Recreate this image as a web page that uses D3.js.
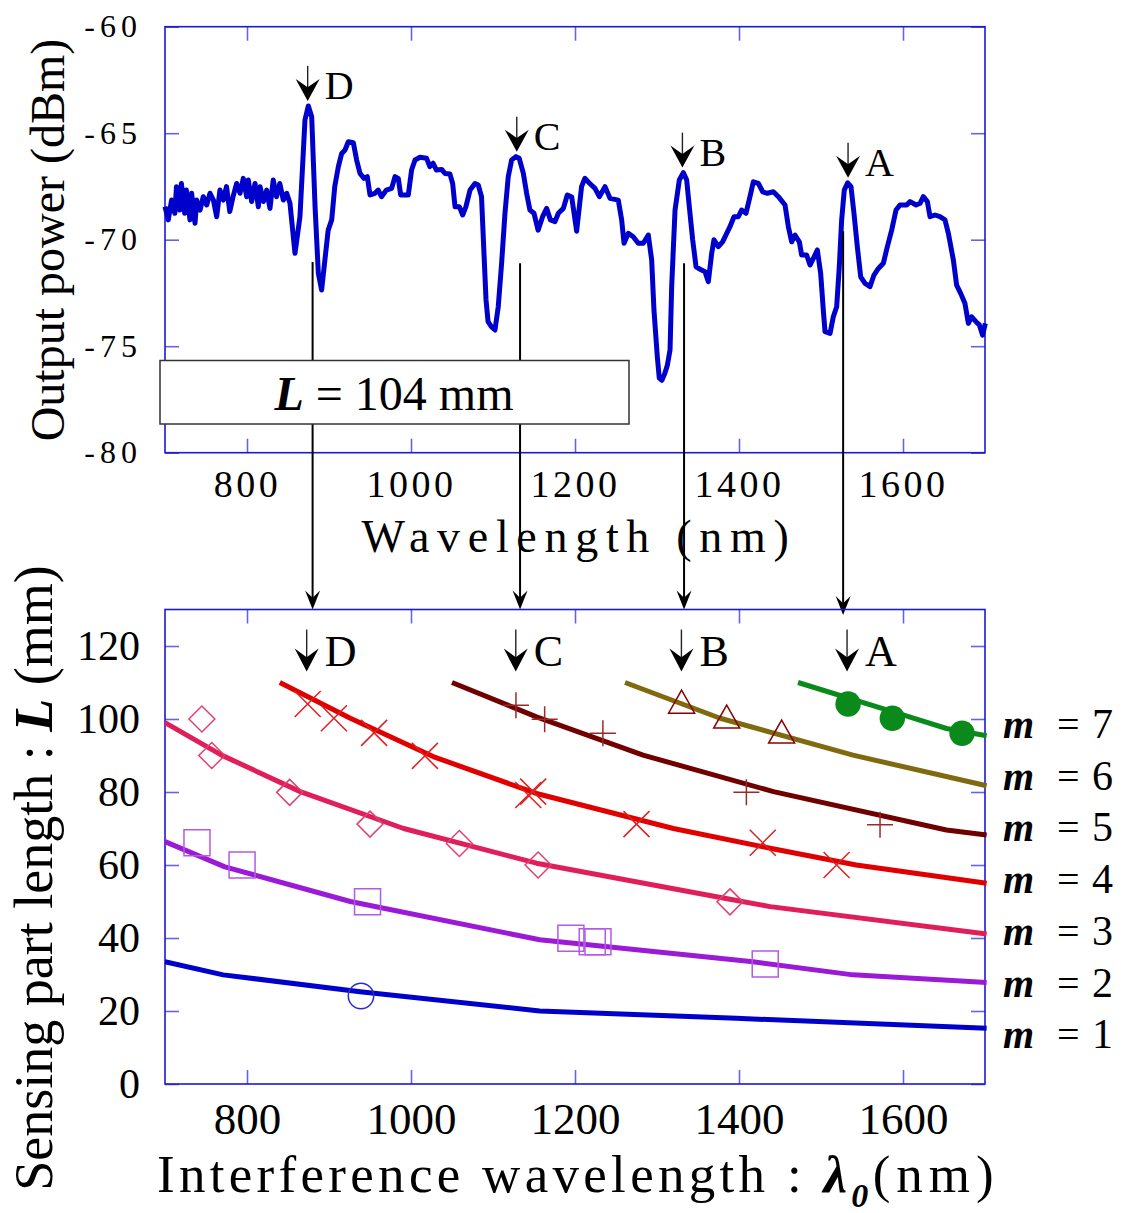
<!DOCTYPE html>
<html>
<head>
<meta charset="utf-8">
<script src="https://cdn.jsdelivr.net/npm/d3@7"></script>
<style>
body { margin: 0; background: #fff; }
svg { display: block; }
text { font-family: "Liberation Serif", "Times New Roman", serif; fill: #000; }
</style>
</head>
<body>
<div id="chart"></div>
<script>

// ---- top chart: measured spectrum (wavelength nm / output power dBm)
var specWl = [700,704,708,712,714,718,720,724,726,730.5,732.5,736.6,738.6,742.7,746.7,750.8,754.9,759,763,767,
  771,775,779,783,787.4,791.5,795.5,799.6,801.6,805.7,809.8,813.8,815.9,820,824,828,832,836,840,844.3,
  848.4,852.4,856.5,858.5,864.6,870.7,874.8,878.9,883,887,891,895,899,903.3,907,911.4,915.5,919.5,923.6,929.7,
  933.7,937.8,942.7,946.7,950,956,960,964,970,976.4,980.5,984.5,987.4,996.7,1000.7,1004.9,1011,1019,1023,1027,
  1031,1037.4,1041.4,1047.5,1050.8,1053.7,1058.9,1063,1067,1072,1078,1082,1086,1089,1091.5,1094,1098,1102.4,1106.4,1110.5,
  1114.6,1118.6,1122.7,1128,1132,1137,1141,1145,1150,1155,1160.5,1165.4,1170,1175.6,1179.7,1185.8,1190.6,1196,1202,1208,
  1212,1218,1224.4,1229.7,1236.6,1242.7,1252.8,1256.9,1259.8,1265,1271,1277.2,1283.3,1289.4,1293.5,1296.3,1300.4,1302.8,1306,1309.3,
  1312.6,1315.9,1317.9,1322,1327.2,1332.1,1336.2,1339.4,1343.5,1347.6,1353.2,1358.5,1362.6,1366.7,1369.5,1374.8,1380,1385,1389,1393.9,
  1399.2,1403.2,1408.5,1413.4,1417.5,1423.6,1428.9,1434.6,1441.9,1448,1456.1,1460.2,1464.2,1468.3,1473.6,1476.4,1482.5,1486.6,1490.7,1495.5,
  1499.6,1502.8,1504.9,1511,1515,1519.1,1522.3,1525.2,1528.4,1532.5,1536.6,1540.2,1544.3,1548.4,1553.7,1559.8,1564.6,1570,1576,1580.9,
  1586.2,1591.5,1596.3,1604.5,1608.6,1616,1620.8,1624.8,1629.7,1633,1639,1645.1,1651.2,1655.3,1661.4,1665.4,1670.3,1675.6,1679.7,1683.7,
  1689,1693.1,1697.1,1700.4];
var specDbm = [-68.45,-69.07,-68.14,-68.76,-67.51,-68.61,-67.36,-68.76,-67.67,-69.07,-67.82,-69.23,-68.14,-68.61,-67.98,-68.37,-67.82,-68.14,-68.92,-67.67,
  -68.14,-67.51,-68.68,-67.98,-67.36,-67.82,-67.12,-67.98,-67.2,-68.21,-67.36,-68.45,-67.51,-68.21,-67.67,-68.53,-67.2,-67.98,-67.36,-68.14,
  -67.82,-68.29,-69.86,-70.64,-68.92,-64.38,-63.72,-64.23,-68.45,-71.58,-72.36,-70.95,-69.55,-69.07,-67.51,-66.57,-65.95,-65.79,-65.4,-65.45,
  -66.26,-66.89,-67.12,-67.04,-67.9,-67.82,-67.67,-67.98,-67.67,-67.59,-67.04,-67.12,-67.9,-67.9,-66.73,-66.26,-66.13,-66.18,-66.57,-66.41,
  -66.73,-66.7,-66.89,-66.92,-67.36,-68.45,-68.45,-68.84,-68.45,-67.67,-67.36,-67.43,-67.98,-70.64,-72.83,-73.85,-74.08,-74.24,-73.15,-71.11,
  -68.76,-67.04,-66.26,-66.1,-66.18,-66.89,-67.82,-68.61,-68.76,-69.55,-68.92,-68.53,-69.07,-69.15,-68.76,-68.53,-67.9,-68.0,-69.6,-67.51,
  -67.12,-67.36,-67.59,-67.98,-67.51,-68.06,-68.14,-69.07,-70.17,-69.7,-69.86,-70.17,-70.17,-69.78,-70.95,-73.3,-75.5,-76.5,-76.6,-76.3,
  -75.9,-75.17,-72.2,-68.61,-67.2,-66.85,-67.2,-68.45,-70.0,-71.27,-71.4,-71.5,-71.97,-70.64,-70.0,-70.33,-70.1,-69.7,-69.39,-68.92,
  -68.92,-68.61,-68.76,-67.98,-67.28,-67.36,-67.75,-67.82,-67.75,-67.98,-68.37,-69.39,-70.1,-69.78,-70.1,-70.72,-70.72,-71.19,-70.88,-70.48,
  -71.58,-73.3,-74.32,-74.4,-73.62,-73.15,-71.27,-69.07,-67.67,-67.33,-67.51,-68.76,-70.33,-71.74,-72.05,-72.2,-71.66,-71.35,-71.11,-70.33,
  -69.55,-68.61,-68.37,-68.37,-68.21,-68.37,-68.29,-67.98,-68.21,-68.92,-68.84,-68.92,-69.07,-69.7,-70.95,-72.13,-72.52,-73.0,-73.93,-73.62,
  -73.85,-74.0,-74.48,-73.93];

var wlTicks = [800, 1000, 1200, 1400, 1600];
var dbmTicks = [-80, -75, -70, -65, -60];
var lenTicks = [0, 20, 40, 60, 80, 100, 120];

// peaks marked A-D
var peakNames = ['D', 'C', 'B', 'A'];
var peakWl = [874, 1129, 1331, 1533];
// connector lines from spectrum to lower chart
var connWl = [880, 1133, 1333, 1527];
var connFromDbm = [-71.05, -71.1, -71.1, -69.6];
var connToLen = [130, 130, 130, 128.5];

// ---- bottom chart: fitted curves for each order m  [wavelength, L]
var orders = [1, 2, 3, 4, 5, 6, 7];
var fitM1 = [[700,33.5],[771,29.9],[938,25.3],[1157,20.0],[1397,18.0],[1702,15.3]];
var fitM2 = [[700,66.4],[773,59.5],[926,50.0],[1157,39.5],[1417,33.5],[1539,29.9],[1702,27.8]];
var fitM3 = [[700,99],[769,90.1],[865,80.1],[991,70.0],[1153,60.5],[1389,50.6],[1438,48.6],[1702,41.1]];
var fitM4 = [[840,110],[926,100.2],[1027,89.7],[1153,79.6],[1320,70.0],[1438,64.6],[1543,60.0],[1702,55.0]];
var fitM5 = [[1050,110],[1153,100.6],[1283,90.1],[1442,80.1],[1653,69.6],[1702,68.2]];
var fitM6 = [[1261,110],[1377,100.2],[1539,90.1],[1702,81.7]];
var fitM7 = [[1472,110],[1600,101.1],[1653,97.4],[1702,95.4]];

// measured points for each order
var ptsM1 = [[939,24.1]];
var ptsM2 = [[739,66.1],[794,60],[947,49.9],[1195,39.9],[1221,39],[1228,39],[1432,32.9]];
var ptsM3 = [[745,100],[757,90],[852,79.9],[950,71.2],[1059,65.9],[1155,60],[1389,49.9]];
var ptsM4 = [[874,104.1],[906,100.2],[955,96.2],[1017,89.9],[1143,79.2],[1149,80.1],[1275,71.2],[1429,66.1],[1519,60]];
var ptsM5 = [[1128,103.8],[1163,99.9],[1234,96.1],[1409,79.9],[1572,71]];
var ptsM6 = [[1330,103.8],[1385,99.7],[1452,95.6]];
var ptsM7 = [[1533,104.1],[1587,100.2],[1672,96.1]];

var fits = [fitM1, fitM2, fitM3, fitM4, fitM5, fitM6, fitM7];
var pts = [ptsM1, ptsM2, ptsM3, ptsM4, ptsM5, ptsM6, ptsM7];
var lineColors = ['#0000cc', '#9a1ad6', '#e01e5a', '#e00000', '#700000', '#806a10', '#0a8a1a'];
var markColors = ['#2a2ad0', '#b45ae6', '#e04070', '#e02020', '#9a2a2a', '#8b0000', '#0a8a1a'];
var markTypes = ['circle', 'square', 'diamond', 'x', 'plus', 'triangle', 'dot'];

var width = 1127, height = 1213;
var frameCol = '#1a1ad8', tickCol = '#6464ea';

var svg = d3.select('#chart').append('svg')
  .attr('width', width).attr('height', height)
  .style('background-color', '#fff');

var x = d3.scaleLinear().domain([700, 1700]).range([165, 985]);
var yTop = d3.scaleLinear().domain([-80, -60]).range([452.7, 26.7]);
var yBot = d3.scaleLinear().domain([0, 130]).range([1084, 609.5]);

function styleAxis(g) {
  g.select('.domain').remove();
  g.selectAll('.tick line').attr('stroke', tickCol).attr('stroke-width', 1.6);
}

function drawAxes(yScale, yTicks, fmtY, opt) {
  var y0 = yScale.range()[0], y1 = yScale.range()[1];
  svg.append('g').attr('transform', 'translate(0,' + y0 + ')')
    .call(d3.axisBottom(x).tickValues(wlTicks).tickSize(-opt.tick).tickFormat(function(d){ return d; }))
    .call(styleAxis)
    .call(function(g){
      g.selectAll('text').attr('y', opt.xOff).attr('dy', 0).attr('fill', '#000')
        .style('font-size', opt.xFont + 'px').style('letter-spacing', opt.xLs + 'px')
        .style('font-family', '"Liberation Serif", serif');
    });
  svg.append('g').attr('transform', 'translate(0,' + y1 + ')')
    .call(d3.axisTop(x).tickValues(wlTicks).tickSize(-opt.tick).tickFormat(''))
    .call(styleAxis);
  svg.append('g').attr('transform', 'translate(165,0)')
    .call(d3.axisLeft(yScale).tickValues(yTicks).tickSize(-opt.tick).tickFormat(fmtY))
    .call(styleAxis)
    .call(function(g){
      g.selectAll('text').attr('x', opt.yOff).attr('fill', '#000')
        .style('font-size', opt.yFont + 'px').style('letter-spacing', opt.yLs + 'px')
        .style('font-family', '"Liberation Serif", serif');
    });
  svg.append('g').attr('transform', 'translate(985,0)')
    .call(d3.axisRight(yScale).tickValues(yTicks).tickSize(-opt.tick).tickFormat(''))
    .call(styleAxis);
  svg.append('rect')
    .attr('x', 165).attr('y', y1).attr('width', 820).attr('height', y0 - y1)
    .attr('fill', 'none').attr('stroke', frameCol).attr('stroke-width', 1.6);
}

// notched arrow pointing down, tip at (cx, tipY)
function downArrow(g, cx, topY, tipY, w, h) {
  g.append('line').attr('x1', cx).attr('x2', cx).attr('y1', topY).attr('y2', tipY - h * 0.5)
    .attr('stroke', '#222').attr('stroke-width', 1.4);
  g.append('path')
    .attr('d', 'M' + (cx - w / 2) + ',' + (tipY - h) + 'L' + cx + ',' + tipY + 'L' + (cx + w / 2) + ',' + (tipY - h) +
      'L' + cx + ',' + (tipY - h * 0.62) + 'Z')
    .attr('fill', '#000');
}

// ---------- top chart
drawAxes(yTop, dbmTicks, function(d){ return String(d); },
  { tick: 14, xOff: 44, xFont: 38, xLs: 3.5, yOff: -23, yFont: 32, yLs: 5 });

var spec = specWl.map(function(w, i){ return [w, specDbm[i]]; });
svg.append('path').datum(spec)
  .attr('d', d3.line().x(function(d){ return x(d[0]); }).y(function(d){ return yTop(d[1]); }))
  .attr('fill', 'none').attr('stroke', '#0000cc').attr('stroke-width', 5)
  .attr('stroke-linejoin', 'round');

var topAnn = svg.append('g');
peakWl.forEach(function(w, i){
  var peak = d3.max(spec.filter(function(d){ return Math.abs(d[0] - w) < 8; }), function(d){ return d[1]; });
  var tip = yTop(peak) - 5;
  downArrow(topAnn, x(w), tip - 35, tip, 24, 22);
  topAnn.append('text').attr('x', x(w) + 17).attr('y', tip - 2)
    .style('font-size', '40px').text(peakNames[i]);
});

svg.append('text').attr('transform', 'translate(64,240) rotate(-90)')
  .attr('text-anchor', 'middle').style('font-size', '48px').text('Output power (dBm)');
svg.append('text').attr('x', 579).attr('y', 552).attr('text-anchor', 'middle')
  .style('font-size', '46px').style('letter-spacing', '7.7px').text('Wavelength (nm)');

// connectors
var conn = svg.append('g');
connWl.forEach(function(w, i){
  downArrow(conn, x(w), yTop(connFromDbm[i]), yBot(connToLen[i]), 15, 19);
});
conn.selectAll('line').attr('stroke', '#000').attr('stroke-width', 2);

// L = 104 mm box
svg.append('rect').attr('x', 160).attr('y', 360.5).attr('width', 469).attr('height', 63.5)
  .attr('fill', '#fff').attr('stroke', '#333').attr('stroke-width', 1.5);
var lt = svg.append('text').attr('x', 394).attr('y', 410).attr('text-anchor', 'middle').style('font-size', '48px');
lt.append('tspan').style('font-weight', 'bold').style('font-style', 'italic').text('L');
lt.append('tspan').text(' = 104 mm');

// ---------- bottom chart
drawAxes(yBot, lenTicks, function(d){ return d; },
  { tick: 14, xOff: 50, xFont: 45, xLs: 0, yOff: -25, yFont: 42, yLs: 0 });

var line = d3.line().x(function(d){ return x(d[0]); }).y(function(d){ return yBot(d[1]); });
var gFit = svg.append('g');
fits.forEach(function(f, i){
  gFit.append('path').datum(f).attr('d', line)
    .attr('fill', 'none').attr('stroke', lineColors[i]).attr('stroke-width', 5)
    .attr('stroke-linejoin', 'round');
});

function markPath(t) {
  var s = 13;
  if (t === 'square') return 'M' + -s + ',' + -s + 'H' + s + 'V' + s + 'H' + -s + 'Z';
  if (t === 'diamond') return 'M0,' + -s + 'L' + s + ',0L0,' + s + 'L' + -s + ',0Z';
  if (t === 'x') return 'M' + -s + ',' + -s + 'L' + s + ',' + s + 'M' + -s + ',' + s + 'L' + s + ',' + -s;
  if (t === 'plus') return 'M' + -s + ',0H' + s + 'M0,' + -s + 'V' + s;
  if (t === 'triangle') return 'M0,-15L13,8L-13,8Z';
  return d3.symbol(d3.symbolCircle, Math.PI * 12.7 * 12.7)();
}

var gPts = svg.append('g');
pts.forEach(function(p, i){
  var t = markTypes[i];
  gPts.selectAll('path.m' + orders[i]).data(p).enter().append('path')
    .attr('class', 'm' + orders[i])
    .attr('transform', function(d){ return 'translate(' + x(d[0]) + ',' + yBot(d[1]) + ')'; })
    .attr('d', markPath(t))
    .attr('fill', t === 'dot' ? markColors[i] : 'none')
    .attr('stroke', t === 'dot' ? 'none' : markColors[i])
    .attr('stroke-width', 1.5);
});

var botAnn = svg.append('g');
peakWl.forEach(function(w, i){
  downArrow(botAnn, x(w) - 1, yBot(124.5), yBot(113), 24, 23);
  botAnn.append('text').attr('x', x(w) + 17).attr('y', 666)
    .style('font-size', '44px').text(peakNames[i]);
});

// m = 1..7 labels
var leg = svg.append('g');
orders.forEach(function(m){
  var ty = 738 + (7 - m) * 51.7;
  var t = leg.append('text').attr('y', ty).style('font-size', '40px');
  t.append('tspan').attr('x', 1003).style('font-weight', 'bold').style('font-style', 'italic').text('m');
  t.append('tspan').attr('x', 1057).text('=');
  t.append('tspan').attr('x', 1092).style('font-size', '42px').text(m);
});

var yt = svg.append('text').attr('transform', 'translate(52,878) rotate(-90)')
  .attr('text-anchor', 'middle').style('font-size', '54px');
yt.append('tspan').text('Sensing part length : ');
yt.append('tspan').style('font-weight', 'bold').style('font-style', 'italic').text('L');
yt.append('tspan').text(' (mm)');

var xt = svg.append('text').attr('x', 157).attr('y', 1192)
  .style('font-size', '53px').style('letter-spacing', '4.3px');
xt.append('tspan').text('Interference wavelength : ');
xt.append('tspan').style('font-weight', 'bold').style('font-style', 'italic').text('λ');
xt.append('tspan').attr('dy', 15).style('font-size', '34px').style('font-weight', 'bold').style('font-style', 'italic').text('0');
xt.append('tspan').attr('dy', -15).style('letter-spacing', '6px').text('(nm)');

</script>
</body>
</html>
